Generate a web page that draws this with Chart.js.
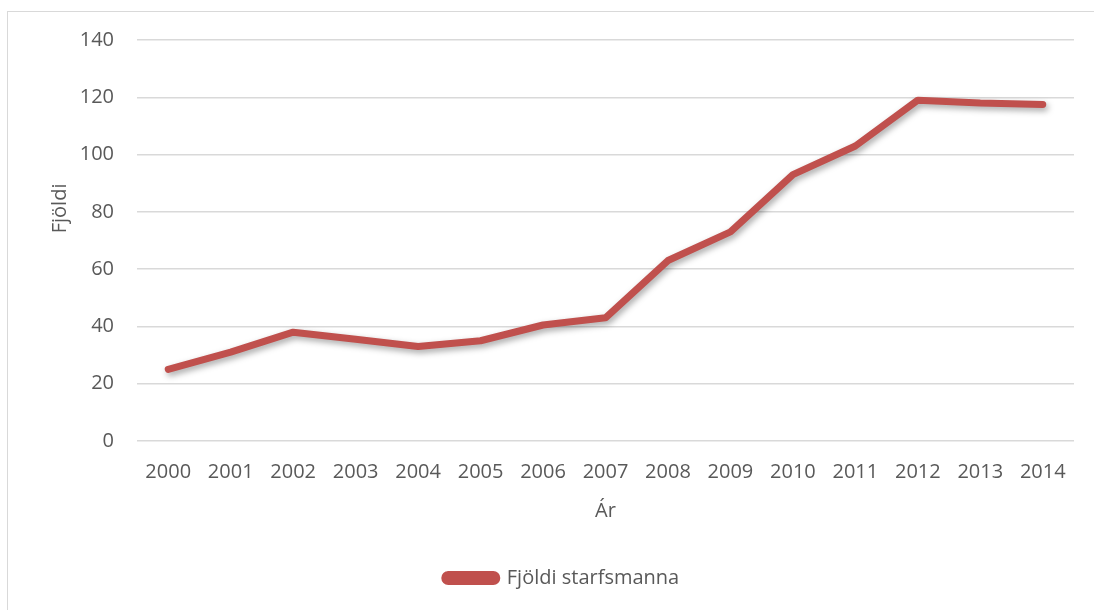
<!DOCTYPE html>
<html>
<head>
<meta charset="utf-8">
<title>Fjöldi starfsmanna</title>
<script src="https://cdn.jsdelivr.net/npm/chart.js@4.4.1/dist/chart.umd.min.js"></script>
<style>
    html, body { margin: 0; padding: 0; background: #fff; overflow: hidden; }
    #frame {
        position: absolute; left: 7px; top: 11px;
        width: 1100px; height: 620px;
        border: 1px solid #d9d9d9;
    }
    #wrap { position: absolute; left: 0; top: 0; width: 1094px; height: 610px; }
</style>
</head>
<body>
<div id="frame"></div>
<div id="wrap"><canvas id="starfsChart"></canvas></div>
<script>
// Fjöldi starfsmanna eftir árum
const ar = ['2000', '2001', '2002', '2003', '2004', '2005', '2006', '2007',
            '2008', '2009', '2010', '2011', '2012', '2013', '2014'];
const fjoldi = [25, 31, 38, 35.5, 33, 35, 40.5, 43, 63, 73, 93, 103, 119, 118, 117.5];
const yTicks = [0, 20, 40, 60, 80, 100, 120, 140];

const textColor = '#595959';
const lineColor = '#c0504d';
const gridColor = '#d9d9d9';
const fontFamily = "'Open Sans', sans-serif";

// skuggi undir línunni
const shadowPlugin = {
    id: 'lineShadow',
    beforeDatasetsDraw(chart) {
        const ctx = chart.ctx;
        ctx.save();
        ctx.shadowColor = 'rgba(0, 0, 0, 0.35)';
        ctx.shadowBlur = 6;
        ctx.shadowOffsetX = 2;
        ctx.shadowOffsetY = 3;
    },
    afterDatasetsDraw(chart) {
        chart.ctx.restore();
    }
};

// y-ás titill, aðeins ofan við miðju eins og í frumriti
const yTitlePlugin = {
    id: 'yTitle',
    afterDraw(chart) {
        const ctx = chart.ctx;
        const area = chart.chartArea;
        ctx.save();
        ctx.translate(60, area.top + area.height * 0.42);
        ctx.rotate(-Math.PI / 2);
        ctx.font = '20px ' + fontFamily;
        ctx.fillStyle = textColor;
        ctx.textAlign = 'center';
        ctx.textBaseline = 'middle';
        ctx.fillText('Fjöldi', 0, 0);
        ctx.restore();
    }
};

// skýringin situr aðeins hægra megin við miðju
const legendShift = {
    id: 'legendShift',
    afterLayout(chart) {
        if (chart.legend) {
            chart.legend.left += 25;
            chart.legend.right += 25;
        }
    }
};

new Chart(document.getElementById('starfsChart').getContext('2d'), {
    type: 'line',
    data: {
        labels: ar,
        datasets: [{
            label: 'Fjöldi starfsmanna',
            data: fjoldi,
            borderColor: lineColor,
            backgroundColor: lineColor,
            borderWidth: 7,
            borderCapStyle: 'round',
            borderJoinStyle: 'round',
            pointRadius: 0,
            tension: 0,
            fill: false
        }]
    },
    options: {
        responsive: true,
        maintainAspectRatio: false,
        animation: false,
        layout: {
            padding: { top: 40, right: 20, left: 0, bottom: 12 }
        },
        plugins: {
            legend: {
                position: 'bottom',
                labels: {
                    color: textColor,
                    font: { family: fontFamily, size: 20 },
                    boxWidth: 52,
                    boxHeight: 7,
                    useBorderRadius: true,
                    borderRadius: 3.5,
                    padding: 10
                }
            },
            tooltip: { enabled: false }
        },
        scales: {
            x: {
                offset: true,
                grid: { display: false, drawTicks: false },
                border: { display: false },
                ticks: {
                    color: textColor,
                    font: { family: fontFamily, size: 20 },
                    padding: 19,
                    maxRotation: 0,
                    autoSkip: false
                },
                title: {
                    display: true,
                    text: 'Ár',
                    color: textColor,
                    font: { family: fontFamily, size: 20 },
                    padding: { top: -4, bottom: 35 }
                }
            },
            y: {
                min: 0,
                max: 140,
                afterBuildTicks: function(scale) {
                    scale.ticks = yTicks.map(v => ({ value: v }));
                },
                afterFit: function(scale) {
                    scale.width = 137;
                },
                grid: { color: gridColor, lineWidth: 1.5, drawTicks: false },
                border: { display: false },
                ticks: {
                    color: textColor,
                    font: { family: fontFamily, size: 20 },
                    padding: 23
                }
            }
        }
    },
    plugins: [shadowPlugin, yTitlePlugin, legendShift]
});
</script>
</body>
</html>
